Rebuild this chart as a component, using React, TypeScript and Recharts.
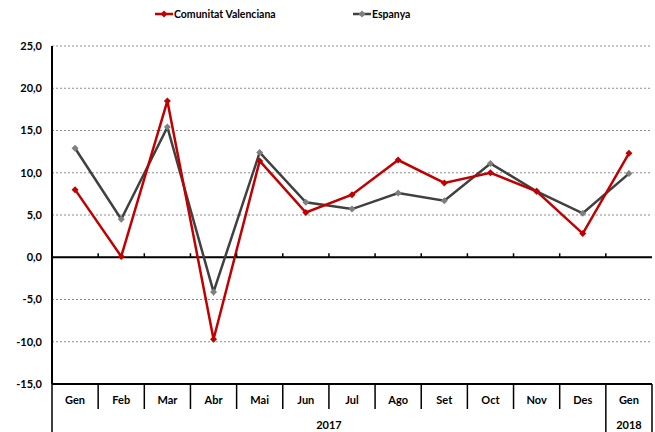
import { LineChart, Line, XAxis, YAxis, CartesianGrid, ReferenceLine } from 'recharts'

const MONTHS = ['Gen', 'Feb', 'Mar', 'Abr', 'Mai', 'Jun', 'Jul', 'Ago', 'Set', 'Oct', 'Nov', 'Des', 'Gen']
const VALENCIANA = [8.0, 0.1, 18.5, -9.7, 11.4, 5.3, 7.4, 11.5, 8.8, 10.0, 7.8, 2.8, 12.3]
const ESPANYA = [12.9, 4.5, 15.4, -4.1, 12.4, 6.5, 5.7, 7.6, 6.7, 11.1, 7.8, 5.2, 9.9]
const YEARS = [
  { label: '2017', count: 12 },
  { label: '2018', count: 1 },
]
const Y_TICKS = [-15, -10, -5, 0, 5, 10, 15, 20, 25]

const W = 655
const H = 432
const M = { top: 46, right: 3, left: 0, bottom: 0 }
const Y_W = 52
const X_H = 48
const PLOT_W = W - M.left - M.right - Y_W
const PLOT_H = H - M.top - M.bottom - X_H
const BAND = PLOT_W / MONTHS.length
const PLOT_BOTTOM = M.top + PLOT_H
const ZERO_Y = M.top + (Y_TICKS[Y_TICKS.length - 1] / (Y_TICKS[Y_TICKS.length - 1] - Y_TICKS[0])) * PLOT_H

const RED = '#C00000'
const GREY = '#404040'
const FONT = "Lato, 'Liberation Sans', sans-serif"

const data = MONTHS.map((m, i) => ({ month: m, cv: VALENCIANA[i], es: ESPANYA[i] }))

const diamond = (fill: string) => (p: any) => {
  const { cx, cy, index } = p
  if (cx == null || cy == null) return <g key={index} />
  const r = 3.5
  return <polygon key={index} points={`${cx},${cy - r} ${cx + r},${cy} ${cx},${cy + r} ${cx - r},${cy}`} fill={fill} />
}

// month label + table separators + year row
const MonthTick = (p: any) => {
  const { x, index, payload } = p
  const left = x - BAND / 2
  let start = 0
  const starts = YEARS.map((yr) => { const s = start; start += yr.count; return { ...yr, s } })
  const group = starts.find((g) => g.s === index)
  return (
    <g>
      {index > 0 && (
        <line x1={left} x2={left} y1={ZERO_Y - 4} y2={ZERO_Y} stroke="#000" strokeWidth={1.5} />
      )}
      <line x1={left} x2={left} y1={PLOT_BOTTOM} y2={group ? H : PLOT_BOTTOM + 25} stroke="#000" strokeWidth={1.5} />
      {index === MONTHS.length - 1 && (
        <line x1={x + BAND / 2} x2={x + BAND / 2} y1={PLOT_BOTTOM} y2={H} stroke="#000" strokeWidth={1.5} />
      )}
      <text x={x} y={PLOT_BOTTOM + 20} textAnchor="middle" fontSize={11} fontWeight="bold" fontFamily={FONT} fill="#000">
        {payload.value}
      </text>
      {group && (
        <text x={left + (group.count * BAND) / 2} y={H - 3} textAnchor="middle" fontSize={11} fontWeight="bold" fontFamily={FONT} fill="#000">
          {group.label}
        </text>
      )}
    </g>
  )
}

const LegendIcon = ({ color, marker }: { color: string; marker: string }) => (
  <svg width={18} height={10} style={{ marginRight: 1 }}>
    <line x1={0} x2={18} y1={5} y2={5} stroke={color} strokeWidth={2.5} />
    <polygon points="9,1.5 12.5,5 9,8.5 5.5,5" fill={marker} />
  </svg>
)

export default function App() {
  return (
    <div style={{ position: 'absolute', left: 0, top: 0, width: W, height: H, background: '#fff', fontFamily: FONT }}>
      <div style={{ position: 'absolute', top: 8, left: 0, width: W, fontSize: 10.5, fontWeight: 'bold' }}>
        <div style={{ position: 'absolute', left: 155, display: 'flex', alignItems: 'center' }}>
          <LegendIcon color={RED} marker={RED} />Comunitat Valenciana
        </div>
        <div style={{ position: 'absolute', left: 353, display: 'flex', alignItems: 'center' }}>
          <LegendIcon color={GREY} marker="#7F7F7F" />Espanya
        </div>
      </div>
      <LineChart width={W} height={H} data={data} margin={M}>
        <CartesianGrid vertical={false} stroke="#8c8c8c" strokeDasharray="2 2" />
        <XAxis
          dataKey="month"
          height={X_H}
          interval={0}
          padding={{ left: BAND / 2, right: BAND / 2 }}
          tickLine={false}
          axisLine={{ stroke: '#000', strokeWidth: 2 }}
          tick={<MonthTick />}
        />
        <XAxis xAxisId="top" dataKey="month" orientation="top" height={0} tick={false} tickLine={false} axisLine={{ stroke: '#000', strokeWidth: 2 }} />
        <YAxis
          width={Y_W}
          domain={[-15, 25]}
          ticks={Y_TICKS}
          interval={0}
          tickLine={false}
          axisLine={{ stroke: '#000', strokeWidth: 2 }}
          tickFormatter={(v: number) => v.toFixed(1).replace('.', ',')}
          tick={{ fill: '#000', fontSize: 11, fontWeight: 'bold', fontFamily: FONT }}
          tickMargin={4}
        />
        <YAxis yAxisId="right" orientation="right" width={0} tick={false} tickLine={false} axisLine={{ stroke: '#000', strokeWidth: 2 }} />
        <ReferenceLine y={0} stroke="#000" strokeWidth={2} />
        <Line type="linear" dataKey="es" stroke={GREY} strokeWidth={2.5} dot={diamond('#7F7F7F')} activeDot={false} isAnimationActive={false} />
        <Line type="linear" dataKey="cv" stroke={RED} strokeWidth={2.5} dot={diamond(RED)} activeDot={false} isAnimationActive={false} />
      </LineChart>
    </div>
  )
}
